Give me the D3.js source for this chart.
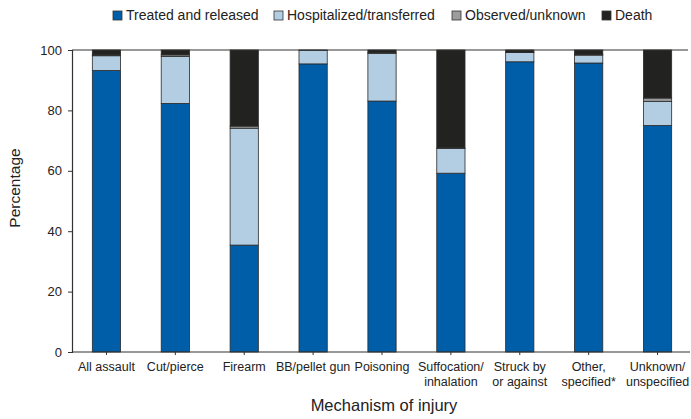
<!DOCTYPE html>
<html>
<head>
<meta charset="utf-8">
<script src="https://cdn.jsdelivr.net/npm/d3@7"></script>
<style>
    body { margin: 0; background: #fff; }
    svg, svg text { font-family: "Liberation Sans", Arial, sans-serif; }
</style>
</head>
<body>
<div id="chart"></div>
<script>
// Data
const categories = ['All assault', 'Cut/pierce', 'Firearm', 'BB/pellet gun', 'Poisoning',
    'Suffocation/\ninhalation', 'Struck by\nor against', 'Other,\nspecified*', 'Unknown/\nunspecified'];
const treated   = [93.2, 82.3, 35.4, 95.4, 83.1, 59.2, 96.1, 95.7, 75.0];
const hosp      = [ 4.9, 15.6, 38.7,  4.5, 15.8,  8.2,  3.1,  2.6,  8.0];
const observed  = [ 0.3,  0.5,  0.7,  0.1,  0.2,  0.2,  0.1,  0.3,  1.1];
const death     = [ 1.6,  1.6, 25.2,  0.0,  0.9, 32.4,  0.7,  1.4, 15.9];
const seriesNames = ['Treated and released', 'Hospitalized/transferred', 'Observed/unknown', 'Death'];
const yTicks = [0, 20, 40, 60, 80, 100];

const colors = ['#005ea8', '#b3cde3', '#9c9c9c', '#222220'];

const width = 691, height = 419;
const margin = { top: 50, right: 0, bottom: 67, left: 72 };

const svg = d3.select('#chart')
    .append('svg')
    .attr('width', width)
    .attr('height', height);

const x = d3.scaleBand()
    .domain(categories)
    .range([margin.left, 692])
    .paddingInner(0.59)
    .paddingOuter(0.295);

const y = d3.scaleLinear()
    .domain([0, 100])
    .range([height - margin.bottom, margin.top]);

// build stacked table
const table = categories.map((c, i) => ({
    cat: c,
    [seriesNames[0]]: treated[i],
    [seriesNames[1]]: hosp[i],
    [seriesNames[2]]: observed[i],
    [seriesNames[3]]: death[i]
}));
const stacked = d3.stack().keys(seriesNames)(table);

// bars
const layers = svg.append('g')
    .selectAll('g')
    .data(stacked)
    .enter()
    .append('g')
    .attr('fill', (d, i) => colors[i]);

layers.selectAll('rect')
    .data(d => d)
    .enter()
    .append('rect')
    .attr('x', d => x(d.data.cat))
    .attr('width', x.bandwidth())
    .attr('y', d => y(Math.min(d[1], 100)))
    .attr('height', d => Math.max(0, y(d[0]) - y(Math.min(d[1], 100))))
    .attr('stroke', '#2a2a2a')
    .attr('stroke-width', 0.8);

// top frame line
svg.append('line')
    .attr('x1', margin.left).attr('x2', 688)
    .attr('y1', y(100)).attr('y2', y(100))
    .attr('stroke', '#333').attr('stroke-width', 1.2);

// y axis
const yAxis = svg.append('g')
    .attr('transform', `translate(${margin.left},0)`)
    .call(d3.axisLeft(y).tickValues(yTicks).tickSize(4).tickPadding(6));
yAxis.attr('font-family', null);
yAxis.select('.domain').attr('stroke', '#333').attr('stroke-width', 1.2);
yAxis.selectAll('.tick line').attr('stroke', '#333');
yAxis.selectAll('.tick text')
    .style('font-size', '13px')
    .attr('fill', '#222');

// x axis
const xAxis = svg.append('g')
    .attr('transform', `translate(0,${y(0)})`)
    .call(d3.axisBottom(x).tickSize(3).tickSizeOuter(0).tickFormat(''));
xAxis.attr('font-family', null);
xAxis.select('.domain').attr('stroke', '#333').attr('stroke-width', 1.2)
    .attr('d', `M${margin.left},0H690`);
xAxis.selectAll('.tick line').attr('stroke', '#333');

xAxis.selectAll('.tick')
    .append('text')
    .attr('fill', '#222')
    .attr('text-anchor', 'middle')
    .style('font-size', '12.5px')
    .each(function(d) {
        const lines = d.split('\n');
        d3.select(this).selectAll('tspan')
            .data(lines)
            .enter()
            .append('tspan')
            .attr('x', 0)
            .attr('y', (l, i) => 19 + i * 15)
            .text(l => l);
    });

// axis titles
svg.append('text')
    .attr('transform', `translate(20,188) rotate(-90)`)
    .attr('text-anchor', 'middle')
    .style('font-size', '15.5px')
    .attr('fill', '#222')
    .text('Percentage');

svg.append('text')
    .attr('x', 384)
    .attr('y', 411)
    .attr('text-anchor', 'middle')
    .style('font-size', '16.5px')
    .attr('fill', '#222')
    .text('Mechanism of injury');

// legend
const legendX = [113, 274, 452, 602];
const legend = svg.append('g');
seriesNames.forEach((name, i) => {
    const row = legend.append('g')
        .attr('transform', `translate(${legendX[i]}, 11)`);
    row.append('rect')
        .attr('width', 9)
        .attr('height', 9)
        .attr('fill', colors[i])
        .attr('stroke', '#333')
        .attr('stroke-width', 0.8);
    row.append('text')
        .attr('x', 13)
        .attr('y', 9)
        .style('font-size', '14px')
        .attr('fill', '#222')
        .text(name);
});
</script>
</body>
</html>
